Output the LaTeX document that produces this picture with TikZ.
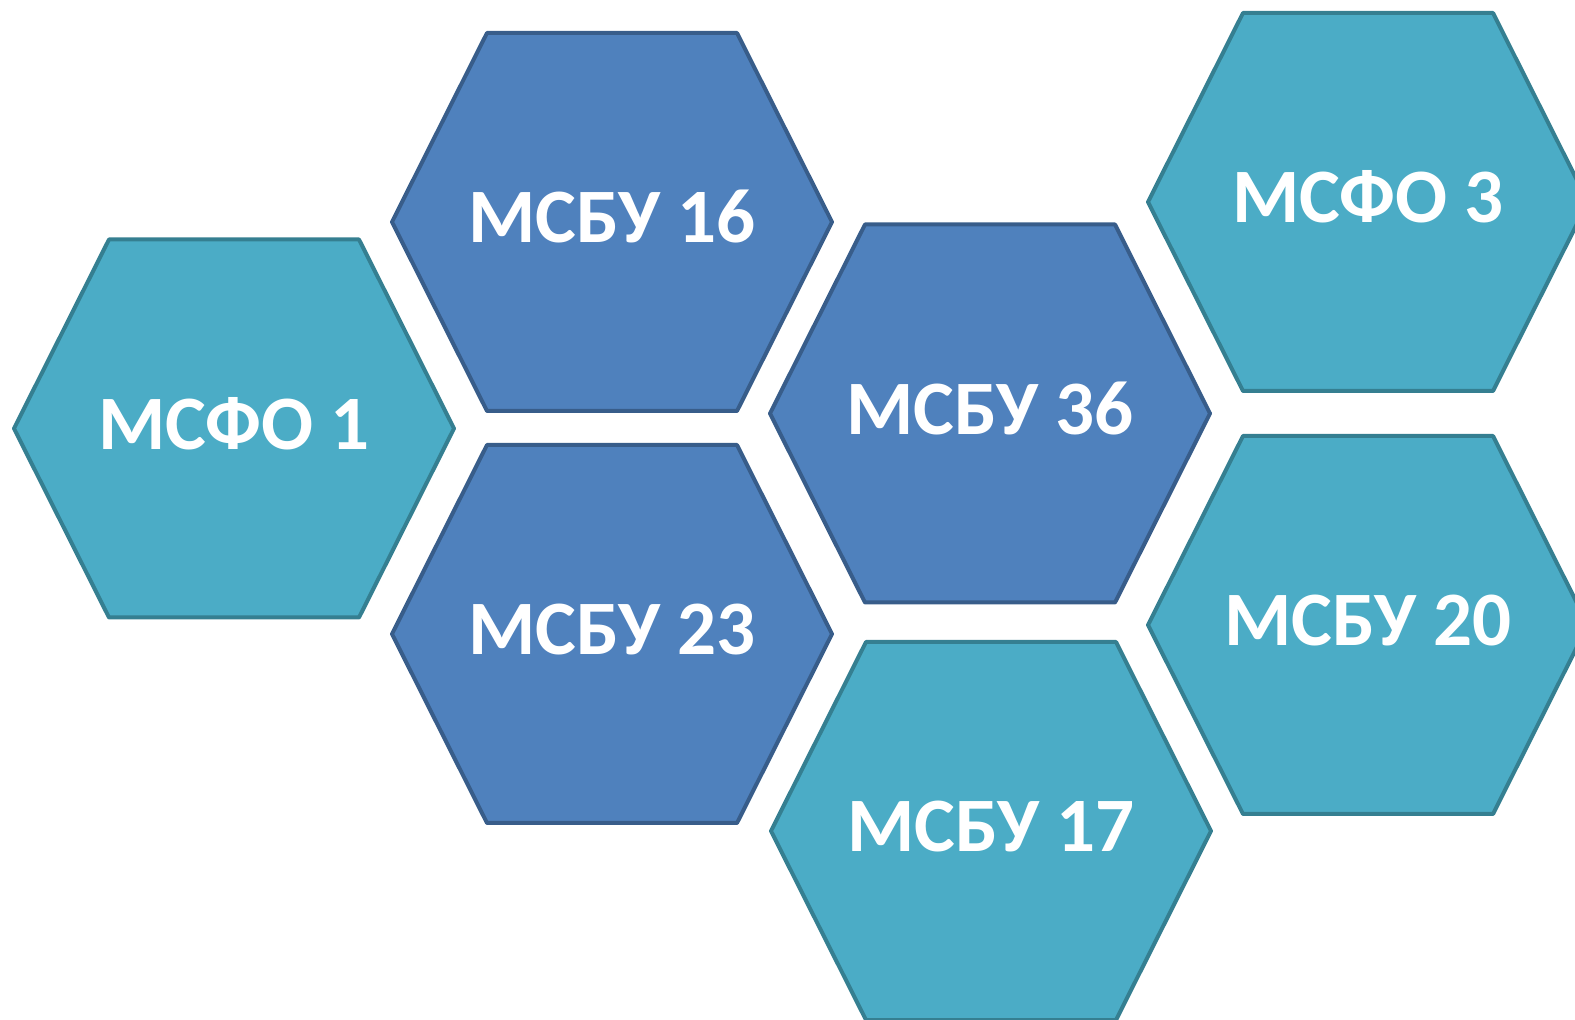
\documentclass[tikz,border=0pt]{standalone}
\usepackage{fontspec}
\setmainfont{Carlito}
\definecolor{tealfill}{HTML}{4BACC6}
\definecolor{tealline}{HTML}{357F91}
\definecolor{bluefill}{HTML}{4F81BD}
\definecolor{blueline}{HTML}{385D8A}
\tikzset{
  hexteal/.style={fill=tealfill, draw=tealline, line width=2pt, line join=round},
  hexblue/.style={fill=bluefill, draw=blueline, line width=2pt, line join=round},
  hextext/.style={text=white, font=\bfseries\fontsize{38.5}{40}\selectfont, anchor=base, inner sep=0pt}
}
\newcommand\hexcell[5]{%
  \draw[#4] (#2-220,#3) -- (#2-125,#3-189) -- (#2+125,#3-189) -- (#2+220,#3) -- (#2+125,#3+189) -- (#2-125,#3+189) -- cycle;
  \node[hextext] (#1) at (#2,#3+21) {#5};
}
\begin{document}
\begin{tikzpicture}[x=0.5pt,y=-0.5pt]
\useasboundingbox (0,0) rectangle (1575,1020);
\clip (0,0) rectangle (1575,1020);
\hexcell{ifrs1}{234}{428.5}{hexteal}{МСФО 1}
\hexcell{ias16}{612}{222}{hexblue}{МСБУ 16}
\hexcell{ias23}{612}{634}{hexblue}{МСБУ 23}
\hexcell{ias36}{990}{413.5}{hexblue}{МСБУ 36}
\hexcell{ias17}{991}{831}{hexteal}{МСБУ 17}
\hexcell{ifrs3}{1368}{202}{hexteal}{МСФО 3}
\hexcell{ias20}{1368}{625}{hexteal}{МСБУ 20}
\end{tikzpicture}
\end{document}
